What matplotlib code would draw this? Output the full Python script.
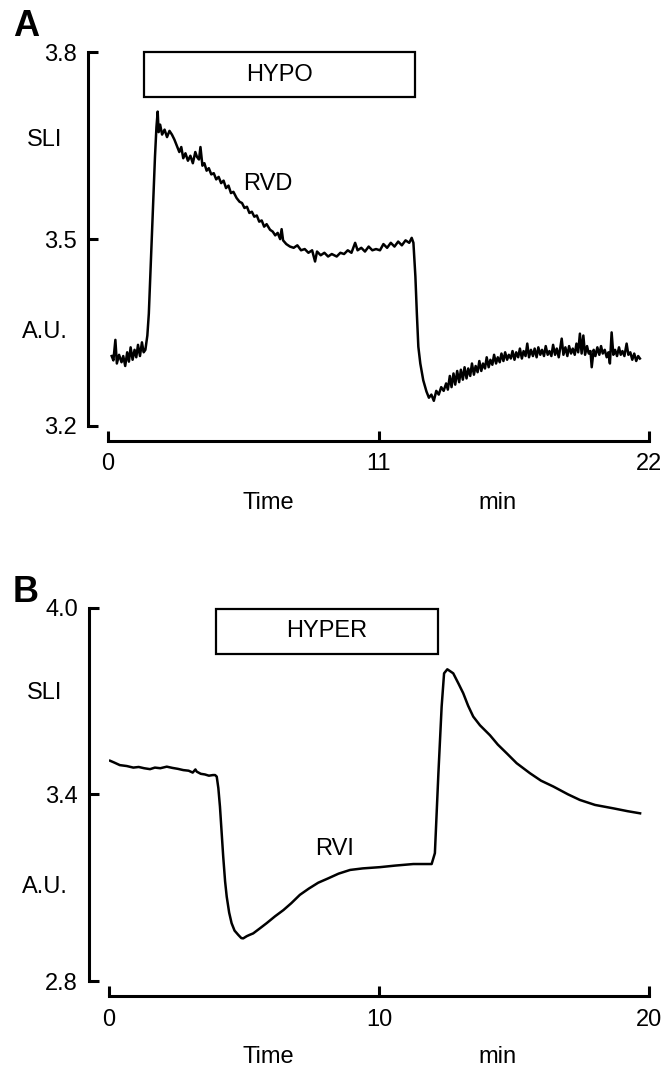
import matplotlib
matplotlib.use("Agg")
import matplotlib.pyplot as plt
from matplotlib.patches import Rectangle

plt.rcParams['font.family'] = ['Liberation Sans', 'DejaVu Sans']

# panel A: hypotonic trace (time min, SLI a.u.)
trace_a = [
    (0.15, 3.312), (0.22, 3.305), (0.30, 3.338), (0.36, 3.300), (0.45, 3.314),
    (0.55, 3.302), (0.62, 3.312), (0.70, 3.296), (0.78, 3.318), (0.85, 3.303),
    (0.92, 3.326), (1.00, 3.306), (1.08, 3.322), (1.15, 3.310), (1.22, 3.330),
    (1.30, 3.312), (1.38, 3.334), (1.45, 3.318), (1.52, 3.322),
    (1.60, 3.345), (1.66, 3.380), (1.72, 3.440), (1.78, 3.500), (1.85, 3.570),
    (1.91, 3.632), (1.97, 3.680), (2.02, 3.705), (2.06, 3.672), (2.12, 3.684),
    (2.20, 3.668), (2.30, 3.676), (2.40, 3.664), (2.50, 3.674), (2.60, 3.668),
    (2.70, 3.660), (2.80, 3.650), (2.90, 3.640), (2.98, 3.648), (3.06, 3.630),
    (3.15, 3.638), (3.25, 3.626), (3.35, 3.634), (3.45, 3.622), (3.55, 3.640),
    (3.62, 3.632), (3.70, 3.628), (3.76, 3.648), (3.84, 3.618), (3.92, 3.622),
    (4.01, 3.610), (4.10, 3.614), (4.20, 3.604), (4.30, 3.606), (4.40, 3.596),
    (4.50, 3.600), (4.60, 3.590), (4.70, 3.594), (4.80, 3.582), (4.90, 3.586),
    (5.00, 3.574), (5.10, 3.576), (5.23, 3.566), (5.35, 3.560), (5.45, 3.558),
    (5.55, 3.550), (5.65, 3.552), (5.75, 3.542), (5.85, 3.544), (5.95, 3.536),
    (6.05, 3.538), (6.15, 3.528), (6.25, 3.530), (6.35, 3.520), (6.45, 3.524),
    (6.59, 3.515), (6.70, 3.512), (6.80, 3.506), (6.90, 3.510), (7.00, 3.500),
    (7.06, 3.516), (7.12, 3.498), (7.25, 3.492), (7.40, 3.488), (7.55, 3.486),
    (7.70, 3.490), (7.85, 3.482), (8.00, 3.484), (8.15, 3.478), (8.30, 3.482),
    (8.42, 3.464), (8.50, 3.480), (8.65, 3.474), (8.80, 3.478), (8.95, 3.472),
    (9.10, 3.476), (9.30, 3.472), (9.45, 3.478), (9.60, 3.476), (9.75, 3.482),
    (9.90, 3.478), (10.05, 3.494), (10.15, 3.482), (10.30, 3.486), (10.45, 3.480),
    (10.60, 3.488), (10.75, 3.482), (10.90, 3.484), (11.06, 3.482), (11.20, 3.492),
    (11.35, 3.486), (11.50, 3.494), (11.65, 3.488), (11.80, 3.496), (11.95, 3.490),
    (12.10, 3.498), (12.25, 3.494), (12.35, 3.502), (12.42, 3.494),
    (12.50, 3.440), (12.56, 3.380), (12.62, 3.327), (12.70, 3.300), (12.82, 3.273),
    (12.95, 3.255), (13.05, 3.245), (13.15, 3.250), (13.25, 3.240), (13.35, 3.256),
    (13.45, 3.250), (13.55, 3.262), (13.65, 3.256),
    (13.75, 3.268), (13.82, 3.258), (13.90, 3.280), (13.97, 3.262), (14.05, 3.284),
    (14.12, 3.266), (14.20, 3.288), (14.28, 3.270), (14.35, 3.290), (14.43, 3.274),
    (14.50, 3.294), (14.58, 3.276), (14.65, 3.292), (14.73, 3.280), (14.80, 3.300),
    (14.88, 3.282), (14.95, 3.296), (15.03, 3.286), (15.10, 3.304), (15.18, 3.288),
    (15.25, 3.300), (15.33, 3.292), (15.40, 3.310), (15.48, 3.294), (15.55, 3.306),
    (15.63, 3.298), (15.70, 3.314), (15.78, 3.300), (15.85, 3.310), (15.93, 3.302),
    (16.00, 3.316), (16.08, 3.304), (16.15, 3.318), (16.23, 3.306), (16.30, 3.314),
    (16.38, 3.308), (16.45, 3.320), (16.53, 3.306), (16.60, 3.318), (16.68, 3.310),
    (16.75, 3.324), (16.83, 3.308), (16.90, 3.320), (16.98, 3.312), (17.05, 3.332),
    (17.12, 3.310), (17.20, 3.322), (17.28, 3.312), (17.35, 3.324), (17.43, 3.310),
    (17.50, 3.326), (17.58, 3.314), (17.65, 3.322), (17.73, 3.312), (17.80, 3.328),
    (17.88, 3.314), (17.95, 3.320), (18.03, 3.312), (18.10, 3.330), (18.18, 3.314),
    (18.25, 3.324), (18.33, 3.310), (18.40, 3.328), (18.45, 3.340), (18.52, 3.314),
    (18.60, 3.326), (18.68, 3.312), (18.75, 3.328), (18.83, 3.316), (18.90, 3.324),
    (18.98, 3.314), (19.05, 3.332), (19.12, 3.318), (19.19, 3.348), (19.26, 3.316),
    (19.33, 3.345), (19.40, 3.314), (19.48, 3.328), (19.55, 3.316), (19.62, 3.320),
    (19.67, 3.294), (19.75, 3.322), (19.82, 3.312), (19.90, 3.326), (19.98, 3.314),
    (20.05, 3.328), (20.12, 3.316), (20.20, 3.322), (20.28, 3.310), (20.35, 3.318),
    (20.41, 3.300), (20.48, 3.350), (20.55, 3.314), (20.62, 3.322), (20.70, 3.312),
    (20.78, 3.326), (20.85, 3.314), (20.92, 3.320), (21.00, 3.312), (21.09, 3.332),
    (21.16, 3.314), (21.24, 3.318), (21.32, 3.306), (21.40, 3.316), (21.48, 3.304),
    (21.56, 3.312), (21.63, 3.308),
]

# panel B: hypertonic trace
trace_b = [
    (0.04, 3.508), (0.20, 3.502), (0.40, 3.494), (0.66, 3.491), (0.90, 3.486),
    (1.10, 3.488), (1.30, 3.484), (1.52, 3.481), (1.70, 3.486), (1.90, 3.484),
    (2.14, 3.489), (2.35, 3.485), (2.55, 3.482), (2.75, 3.478), (2.95, 3.476),
    (3.10, 3.470), (3.20, 3.480), (3.25, 3.473), (3.40, 3.466), (3.55, 3.464),
    (3.70, 3.460), (3.85, 3.462), (3.93, 3.462), (3.99, 3.457),
    (4.05, 3.420), (4.11, 3.360), (4.17, 3.280), (4.23, 3.200), (4.30, 3.120),
    (4.36, 3.071), (4.45, 3.020), (4.54, 2.986), (4.65, 2.962), (4.79, 2.948),
    (4.90, 2.938), (4.97, 2.937), (5.10, 2.944), (5.20, 2.948), (5.34, 2.953),
    (5.60, 2.970), (5.84, 2.986), (6.15, 3.008), (6.46, 3.028), (6.75, 3.050),
    (7.07, 3.077), (7.40, 3.097), (7.75, 3.116), (8.12, 3.130), (8.50, 3.145),
    (8.93, 3.157), (9.40, 3.162), (10.04, 3.166), (10.60, 3.171), (11.27, 3.176),
    (11.70, 3.176), (11.95, 3.176),
    (12.07, 3.211), (12.20, 3.468), (12.32, 3.682), (12.41, 3.789), (12.53, 3.802),
    (12.65, 3.795), (12.75, 3.789), (12.95, 3.755), (13.12, 3.725), (13.30, 3.685),
    (13.49, 3.650), (13.74, 3.622), (14.11, 3.590), (14.40, 3.560), (14.73, 3.532),
    (15.10, 3.500), (15.59, 3.468), (16.00, 3.444), (16.46, 3.425), (17.00, 3.400),
    (17.44, 3.382), (18.00, 3.366), (18.68, 3.355), (19.20, 3.346), (19.67, 3.339),
]

xticks_a = [0, 11, 22]
yticks_a = [3.2, 3.5, 3.8]
ylabels_a = ['3.2', '3.5', '3.8']
xticks_b = [0, 10, 20]
yticks_b = [2.8, 3.4, 4.0]
ylabels_b = ['2.8', '3.4', '4.0']

# stimulus bars (start, end, bottom, top)
bar_a = (1.46, 12.49, 3.728, 3.8)
bar_b = (3.96, 12.19, 3.851, 3.996)

W, H = 663, 1067
FS = 17
fig = plt.figure(figsize=(W / 100, H / 100), dpi=100)


def px(x, y):
    return x / W, 1 - y / H


def make_panel(rect, trace, xt, yt, ylab, bar, bar_text, note, note_xy):
    ax = fig.add_axes(rect)
    t, v = zip(*trace)
    ax.plot(t, v, color='black', lw=1.8)
    ax.set_xlim(xt[0], xt[-1])
    ax.set_ylim(yt[0], yt[-1])
    for s in ['top', 'right']:
        ax.spines[s].set_visible(False)
    ax.spines['left'].set_position(('outward', 14.5))
    ax.spines['bottom'].set_position(('outward', 11))
    ax.spines['left'].set_bounds(yt[0], yt[-1])
    ax.spines['bottom'].set_bounds(xt[0], xt[-1])
    for s in ['left', 'bottom']:
        ax.spines[s].set_linewidth(2.2)
    ax.set_xticks(xt)
    ax.set_xticklabels([str(x) for x in xt])
    ax.set_yticks(yt)
    ax.set_yticklabels(ylab)
    ax.tick_params(axis='both', direction='in', length=7, width=2.2,
                   labelsize=FS)
    ax.tick_params(axis='y', pad=8)
    ax.tick_params(axis='x', pad=9)
    x0, x1, y0, y1 = bar
    ax.add_patch(Rectangle((x0, y0), x1 - x0, y1 - y0, fill=False,
                           lw=1.6, ec='black', clip_on=False))
    ax.text((x0 + x1) / 2, (y0 + y1) / 2, bar_text, ha='center',
            va='center', fontsize=FS)
    ax.text(note_xy[0], note_xy[1], note, ha='center', va='center',
            fontsize=FS)
    ax.patch.set_visible(False)
    return ax


make_panel([108 / W, 1 - 425.7 / H, 541 / W, 373.2 / H], trace_a,
           xticks_a, yticks_a, ylabels_a, bar_a, 'HYPO', 'RVD', (6.49, 3.589))
make_panel([109 / W, 1 - 981 / H, 540 / W, 373.3 / H], trace_b,
           xticks_b, yticks_b, ylabels_b, bar_b, 'HYPER', 'RVI', (8.37, 3.224))

# panel letters and axis captions
fig.text(*px(26, 26), 'A', fontsize=26, fontweight='bold', ha='center', va='center')
fig.text(*px(26, 592), 'B', fontsize=26, fontweight='bold', ha='center', va='center')
for yy in (140, 693):
    fig.text(*px(45, yy), 'SLI', fontsize=FS, ha='center', va='center')
for yy in (332, 887):
    fig.text(*px(45, yy), 'A.U.', fontsize=FS, ha='center', va='center')
for yy in (503, 1057):
    fig.text(*px(268, yy), 'Time', fontsize=FS, ha='center', va='center')
    fig.text(*px(498, yy), 'min', fontsize=FS, ha='center', va='center')

fig.savefig('out.png', dpi=100)
